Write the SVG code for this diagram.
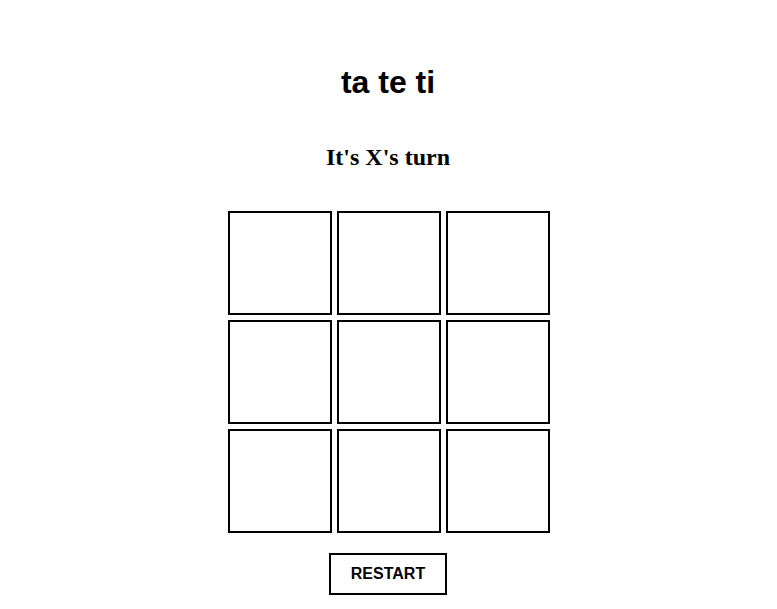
<svg xmlns="http://www.w3.org/2000/svg" width="777" height="609" viewBox="0 0 777 609">
<style>
.cell{fill:#fff;stroke:#000;stroke-width:2}
.title{font-family:"Liberation Sans",Arial,sans-serif;font-weight:bold;font-size:32px;text-anchor:middle;fill:#000}
.status{font-family:"Liberation Serif","Times New Roman",serif;font-weight:bold;font-size:24px;text-anchor:middle;fill:#000}
.btn{font-family:"Liberation Sans",Arial,sans-serif;font-weight:bold;font-size:16px;text-anchor:middle;fill:#000}
</style>
<rect width="777" height="609" fill="#fff"/>
<g id="title"><text class="title" x="388" y="93">ta te ti</text></g>
<g id="status"><text class="status" x="388" y="165">It's X's turn</text></g>
<g id="board">
<g id="cell-0"><rect class="cell" x="229" y="212" width="102" height="102"/></g>
<g id="cell-1"><rect class="cell" x="338" y="212" width="102" height="102"/></g>
<g id="cell-2"><rect class="cell" x="447" y="212" width="102" height="102"/></g>
<g id="cell-3"><rect class="cell" x="229" y="321" width="102" height="102"/></g>
<g id="cell-4"><rect class="cell" x="338" y="321" width="102" height="102"/></g>
<g id="cell-5"><rect class="cell" x="447" y="321" width="102" height="102"/></g>
<g id="cell-6"><rect class="cell" x="229" y="430" width="102" height="102"/></g>
<g id="cell-7"><rect class="cell" x="338" y="430" width="102" height="102"/></g>
<g id="cell-8"><rect class="cell" x="447" y="430" width="102" height="102"/></g>
</g>
<g id="restart">
<rect class="cell" x="330" y="554" width="116" height="40"/>
<text class="btn" x="388" y="579">RESTART</text>
</g>
<g id="connectors"/>
</svg>
